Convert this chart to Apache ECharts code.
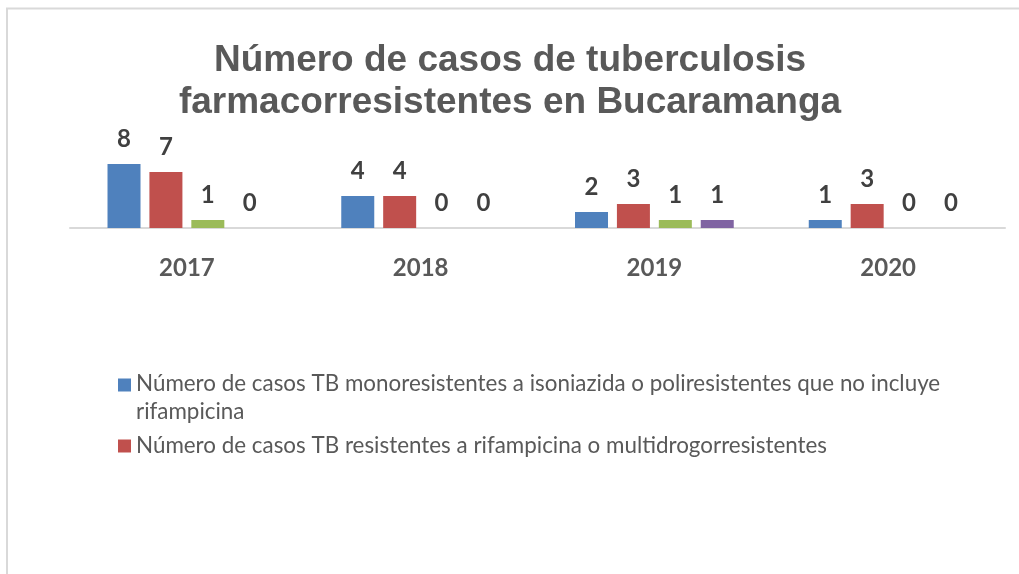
<!DOCTYPE html>
<html>
<head>
<meta charset="utf-8">
<script src="https://cdn.jsdelivr.net/npm/echarts@6/dist/echarts.min.js"></script>
<style>
    html, body {margin: 0; padding: 0; background: #fff;}
    #main {width: 1019px; height: 574px;}
</style>
</head>
<body>
<div id="main"></div>
<script>
// datos
let years = ['2017', '2018', '2019', '2020'];
let seriesNames = [
    'Número de casos TB monoresistentes a isoniazida o poliresistentes que no incluye rifampicina',
    'Número de casos TB resistentes a rifampicina o multidrogorresistentes',
    'Serie 3',
    'Serie 4'
];
let monoPoli = [8, 4, 2, 1];
let rifMdr = [7, 4, 3, 3];
let serie3 = [1, 0, 1, 0];
let serie4 = [0, 0, 1, 0];
let colors = ['#4F81BD', '#C0504D', '#9BBB59', '#8064A2'];

let myChart = echarts.init(document.getElementById('main'));

function makeSeries(i, data) {
    return {
        name: seriesNames[i],
        type: 'bar',
        data: data,
        barWidth: 33,
        barGap: '27%',
        itemStyle: {color: colors[i]},
        label: {
            show: true,
            position: 'top',
            distance: 13,
            color: '#404040',
            fontFamily: 'Lato',
            fontWeight: 'bold',
            fontSize: 24
        }
    };
}

let option = {
    animation: false,
    title: {
        text: 'Número de casos de tuberculosis\nfarmacorresistentes en Bucaramanga',
        left: 505,
        textAlign: 'center',
        top: 35,
        textStyle: {
            fontFamily: 'Liberation Sans',
            fontWeight: 'bold',
            fontSize: 37,
            lineHeight: 42,
            color: '#595959'
        }
    },
    legend: {
        data: [seriesNames[0], seriesNames[1]],
        orient: 'vertical',
        left: 118,
        top: 373,
        padding: 0,
        itemGap: 12,
        itemWidth: 13,
        itemHeight: 13,
        icon: 'rect',
        selectedMode: false,
        formatter: function (name) {
            if (name === seriesNames[0]) {
                // primera línea alineada con el icono, la segunda debajo
                return '{a|Número de casos TB monoresistentes a isoniazida o poliresistentes que no incluye}\n{b|rifampicina}';
            }
            return '{c|' + name + '}';
        },
        textStyle: {
            color: '#595959',
            fontFamily: 'Lato',
            fontSize: 22.4,
            rich: {
                a: {color: '#595959', fontFamily: 'Lato', fontSize: 22.4, lineHeight: 54},
                b: {color: '#595959', fontFamily: 'Lato', fontSize: 22.4, lineHeight: 2},
                c: {color: '#595959', fontFamily: 'Lato', fontSize: 22.4, lineHeight: 27}
            }
        }
    },
    grid: {
        left: 70,
        right: 14,
        top: 164,
        bottom: 346,
        containLabel: false
    },
    xAxis: {
        type: 'category',
        data: years,
        axisLine: {lineStyle: {color: '#D9D9D9', width: 2}},
        axisTick: {show: false},
        axisLabel: {
            margin: 28,
            color: '#595959',
            fontFamily: 'Lato',
            fontWeight: 'bold',
            fontSize: 24
        }
    },
    yAxis: {
        type: 'value',
        min: 0,
        max: 8,
        show: false,
        splitLine: {show: false}
    },
    graphic: [
        {type: 'line', shape: {x1: 6, y1: 8.5, x2: 1019, y2: 8.5}, style: {stroke: '#D9D9D9', lineWidth: 2}},
        {type: 'line', shape: {x1: 7, y1: 8, x2: 7, y2: 574}, style: {stroke: '#D9D9D9', lineWidth: 2}}
    ],
    series: [
        makeSeries(0, monoPoli),
        makeSeries(1, rifMdr),
        makeSeries(2, serie3),
        makeSeries(3, serie4)
    ]
};
myChart.setOption(option);
</script>
</body>
</html>
